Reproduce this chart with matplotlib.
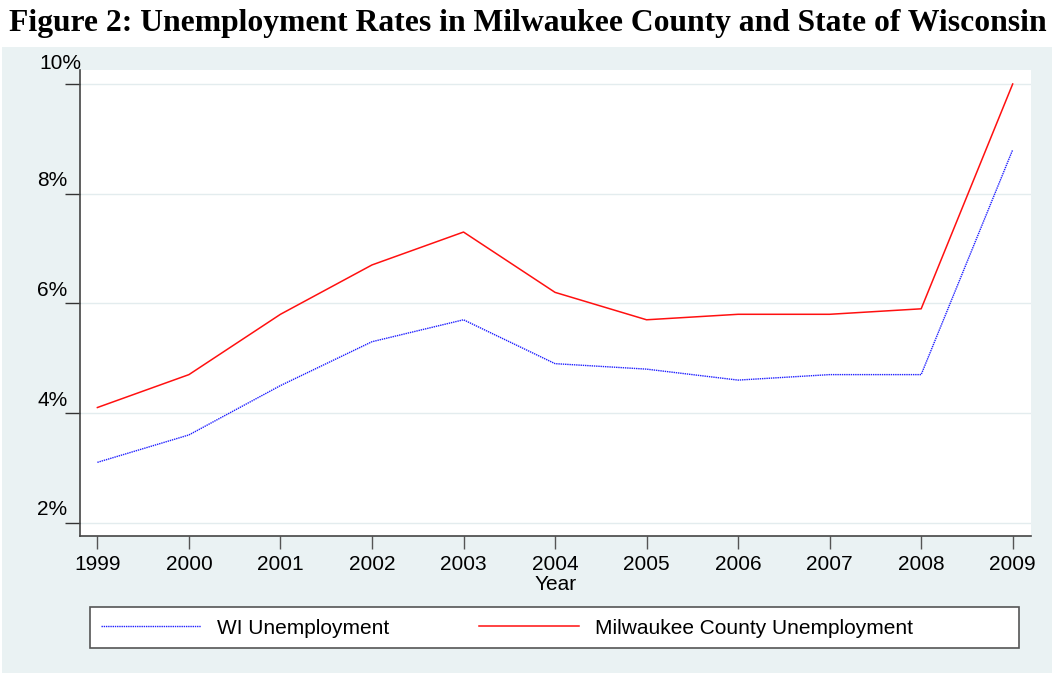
import matplotlib
matplotlib.use("Agg")
import matplotlib.pyplot as plt
import matplotlib.transforms as mtransforms
from matplotlib.patches import Rectangle

years = [1999, 2000, 2001, 2002, 2003, 2004, 2005, 2006, 2007, 2008, 2009]
wi_unemp = [3.1, 3.6, 4.5, 5.3, 5.7, 4.9, 4.8, 4.6, 4.7, 4.7, 8.8]
mke_unemp = [4.1, 4.7, 5.8, 6.7, 7.3, 6.2, 5.7, 5.8, 5.8, 5.9, 10.0]
yticks = [2, 4, 6, 8, 10]
ytick_labels = ["2%", "4%", "6%", "8%", "10%"]
title = "Figure 2: Unemployment Rates in Milwaukee County and State of Wisconsin"
series_names = ["WI Unemployment", "Milwaukee County Unemployment"]

W, H = 1052, 673
fig = plt.figure(figsize=(W / 100, H / 100), dpi=100)
fig.patch.set_facecolor("white")

bg = "#EAF2F3"
fig.patches.append(Rectangle((2 / W, 0), 1 - 2 / W, (H - 47) / H, transform=fig.transFigure,
                             facecolor=bg, edgecolor="none", zorder=-5))
fig.patches.append(Rectangle((90 / W, (H - 648) / H), 929 / W, 41 / H, transform=fig.transFigure,
                             facecolor="white", edgecolor="#555555", linewidth=1.2, zorder=-4))

ax = fig.add_axes([80 / W, (H - 536) / H, 951 / W, 466 / H])
ax.set_zorder(2)
ax.set_facecolor("white")
ax.plot(years, wi_unemp, color="#2020FF", linestyle=(0, (1, 0.6)), linewidth=1.0,
        label=series_names[0])
ax.plot(years, mke_unemp, color="#FF1010", linestyle="-", linewidth=1.1,
        label=series_names[1])

ax.set_xlim(1998.81, 2009.2)
ax.set_ylim(1.757, 10.255)
ax.set_xticks(years)
ax.set_xticklabels([str(y) for y in years], fontsize=15, family="Liberation Sans")
ax.set_yticks(yticks)
ax.set_yticklabels(ytick_labels, fontsize=15, family="Liberation Sans")
ax.grid(axis="y", color="#E3ECEE", linewidth=1.0)
ax.set_axisbelow(True)
for s in ["top", "right"]:
    ax.spines[s].set_visible(False)
for s in ["left", "bottom"]:
    ax.spines[s].set_color("#444444")
    ax.spines[s].set_linewidth(1.2)
ax.tick_params(axis="x", length=9, width=1, color="#555555", pad=5)
ax.tick_params(axis="y", length=11, width=1, color="#333333", pad=1)
labs = ax.get_yticklabels()
for i, lab in enumerate(labs):
    lab.set_verticalalignment("bottom")
    if i == len(labs) - 1:
        dx, dy = 18, 10.5
    else:
        dx, dy = 4, 3.5
    off = mtransforms.ScaledTranslation(dx / 100, dy / 100, fig.dpi_scale_trans)
    lab.set_transform(lab.get_transform() + off)

ax.set_xlabel("Year", fontsize=15, family="Liberation Sans", labelpad=0.5)

leg = fig.legend(loc="center left", bbox_to_anchor=(101 / W, 1 - 628 / H),
                 ncol=2, frameon=False,
                 prop={"family": "Liberation Sans", "size": 15},
                 handlelength=4.8, handletextpad=0.77, borderaxespad=0, borderpad=0,
                 columnspacing=4.3)

fig.text(528 / W, 1 - 24 / H, title, ha="center", va="center", fontsize=22.8,
         family="Liberation Serif", weight="bold")

fig.savefig("out.png", dpi=100)
